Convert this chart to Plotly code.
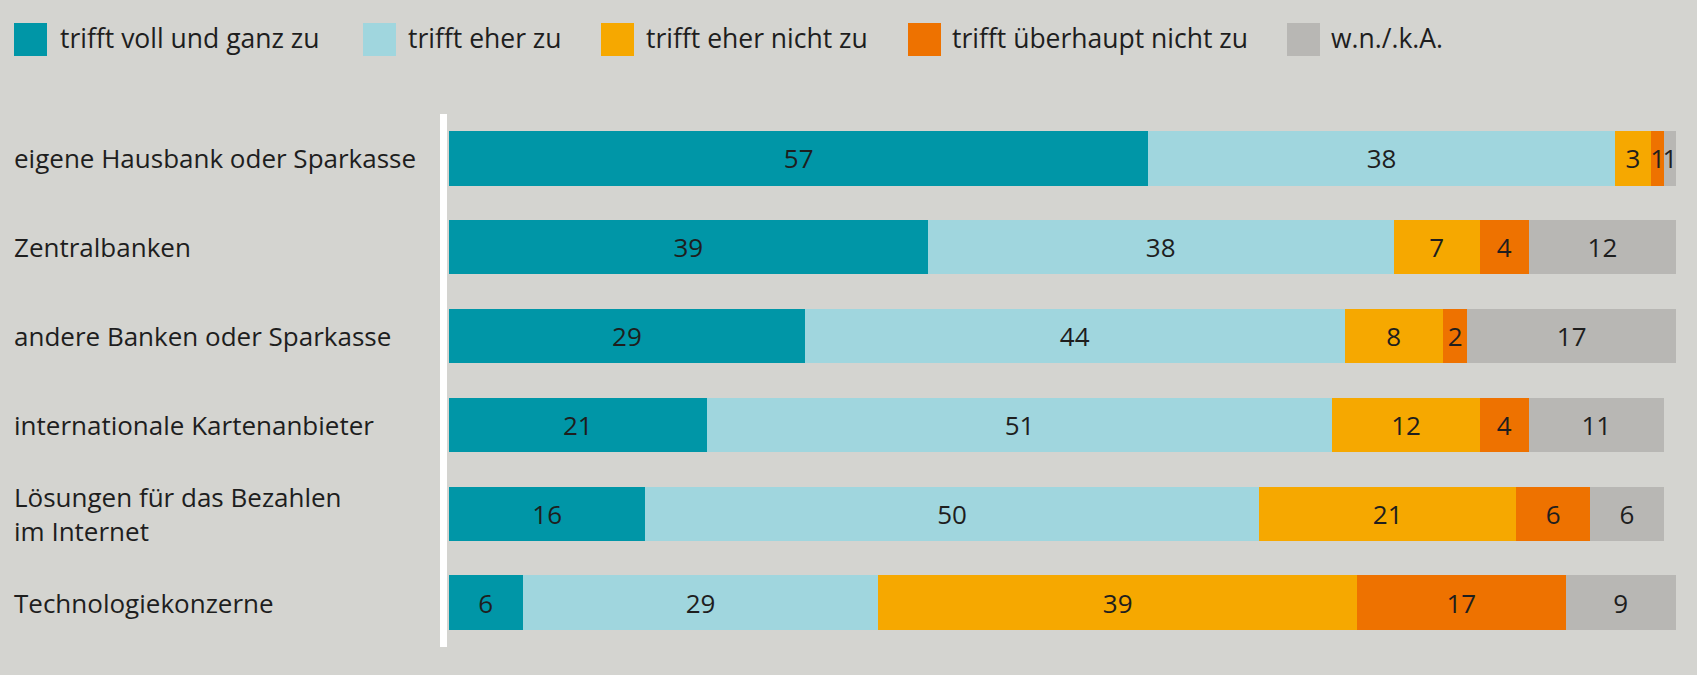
import plotly.graph_objects as go

categories = [
    "eigene Hausbank oder Sparkasse",
    "Zentralbanken",
    "andere Banken oder Sparkasse",
    "internationale Kartenanbieter",
    "Lösungen für das Bezahlen<br>im Internet",
    "Technologiekonzerne",
]
series_names = [
    "trifft voll und ganz zu",
    "trifft eher zu",
    "trifft eher nicht zu",
    "trifft überhaupt nicht zu",
    "w.n./.k.A.",
]
voll = [57, 39, 29, 21, 16, 6]
eher = [38, 38, 44, 51, 50, 29]
eher_nicht = [3, 7, 8, 12, 21, 39]
ueberhaupt_nicht = [1, 4, 2, 4, 6, 17]
wnka = [1, 12, 17, 11, 6, 9]

values = [voll, eher, eher_nicht, ueberhaupt_nicht, wnka]
colors = ["#0096a7", "#a0d6de", "#f6a800", "#ee7200", "#b8b7b4"]

W, H = 1697, 675
L, R, T, B = 449, 21, 114, 28
PW, PH = W - L - R, H - T - B


def px(x):
    return (x - L) / PW


def py(y):
    return (H - B - y) / PH


FONT = "Open Sans"
TXT = "#1e1e1e"
FS = 26

fig = go.Figure()
for name, vals, col in zip(series_names, values, colors):
    fig.add_trace(
        go.Bar(
            y=categories,
            x=vals,
            name=name,
            orientation="h",
            marker=dict(color=col, line=dict(width=0)),
            text=vals,
            textposition="inside",
            insidetextanchor="middle",
            textangle=0,
            constraintext="none",
            textfont=dict(family=FONT, size=FS, color=TXT),
            showlegend=False,
        )
    )

# white axis line left of the bars
fig.add_shape(type="rect", xref="paper", yref="paper",
              x0=px(440), x1=px(447), y0=0, y1=1,
              fillcolor="white", line=dict(width=0))

# category labels, left aligned
for cat in categories:
    fig.add_annotation(x=px(12), y=cat, xref="paper", yref="y", text=cat,
                       showarrow=False, xanchor="left", yanchor="middle", align="left",
                       font=dict(family=FONT, size=FS, color=TXT))

# legend drawn by hand (large square swatches)
sw_x = [14, 363, 601, 908, 1287]
tx_x = [58, 406, 644, 950, 1329]
for name, col, sx, tx in zip(series_names, colors, sw_x, tx_x):
    fig.add_shape(type="rect", xref="paper", yref="paper",
                  x0=px(sx), x1=px(sx + 33), y0=py(56), y1=py(23),
                  fillcolor=col, line=dict(width=0))
    fig.add_annotation(x=px(tx), y=py(38), xref="paper", yref="paper", text=name,
                       showarrow=False, xanchor="left", yanchor="middle",
                       font=dict(family=FONT, size=26.5, color=TXT))

fig.update_layout(
    width=W,
    height=H,
    barmode="stack",
    bargap=0.39,
    margin=dict(l=L, r=R, t=T, b=B),
    plot_bgcolor="#d4d4d0",
    paper_bgcolor="#d4d4d0",
    font=dict(family=FONT, color=TXT),
    uniformtext=dict(mode="show", minsize=FS),
    xaxis=dict(range=[0, 100], visible=False, fixedrange=True),
    yaxis=dict(autorange="reversed", showticklabels=False, showgrid=False,
               zeroline=False, fixedrange=True),
)

fig.write_html("out.html", config={"displayModeBar": False},
               post_script="document.body.style.margin='0';")
